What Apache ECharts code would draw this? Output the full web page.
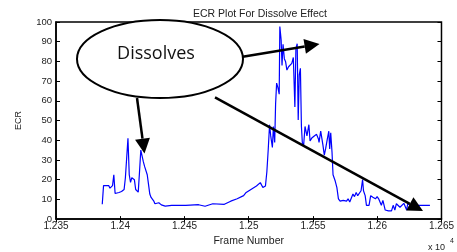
<!DOCTYPE html>
<html>
<head>
<meta charset="utf-8">
<script src="https://cdn.jsdelivr.net/npm/echarts@6/dist/echarts.min.js"></script>
<style>
  html, body { margin: 0; padding: 0; background: #fff; }
  #chart { width: 457px; height: 252px; }
</style>
</head>
<body>
<div id="chart"></div>
<script>
// frame numbers and ECR values
var frames = [
  12386, 12387, 12391, 12392, 12394, 12395, 12396, 12399, 12401, 12403,
  12404, 12406, 12407, 12408, 12409, 12411, 12412, 12414, 12415, 12416,
  12418, 12419, 12421, 12422, 12423, 12424, 12426, 12427, 12430, 12432,
  12435, 12440, 12443, 12451, 12461, 12466, 12472, 12481, 12486, 12491,
  12496, 12498, 12502, 12506, 12507, 12509, 12511, 12513,
  12514.1, 12515.2, 12516.2, 12517.1, 12518.4, 12519.2, 12520.2, 12520.9, 12521.7, 12522.7,
  12523.7, 12524.2, 12525.2, 12525.9, 12526.7, 12527.7, 12528.7, 12529.7, 12531, 12532.2,
  12533.5, 12534.7, 12535.9, 12536.7, 12537.7, 12538.5, 12539.3, 12540.2, 12541, 12541.7,
  12542.7, 12543.8, 12545.3, 12546.8, 12547.7, 12549.3, 12551, 12552.8, 12554.3, 12554.7,
  12556, 12556.8, 12557.8, 12558.8, 12559.8, 12561.1, 12562.3, 12563, 12563.8, 12564.8,
  12565.6, 12567.3, 12568.6, 12569.8, 12571.1, 12573.5, 12576.1, 12577.3, 12578.6, 12581.1,
  12582.3, 12583.6, 12584.8, 12586.1, 12587.4, 12588.6, 12589.3, 12590.6, 12591.6, 12593.6,
  12594.9, 12596.6, 12598.6, 12599.9, 12601.1, 12603.2, 12604.4, 12606.2, 12608.7, 12611.1,
  12612.4, 12613.7, 12614.9, 12617.7, 12620.7, 12622.9, 12623.7, 12625, 12626.2, 12627.5,
  12628.7, 12629.9, 12641
];
var ecr = [
  7.5, 17, 17, 15.7, 17, 22.5, 13, 13.5, 14, 15,
  21, 41, 22.5, 18.6, 21, 20, 15, 13.7, 24, 35,
  29, 26.6, 22.5, 17.6, 12.7, 11, 9.3, 7.8, 8.3, 7.2,
  6.6, 7, 7, 7, 7.3, 6.5, 7.8, 7.5, 9.1, 10.3,
  11.9, 13.5, 15.2, 16.8, 17.6, 18.5, 16, 16.8,
  24, 35.7, 47.9, 42.2, 36.4, 47, 38.9, 58.5, 69, 66.7,
  63.4, 97.7, 91, 78, 88.7, 81.4, 79.8, 75.6, 77.3, 77,
  79, 82, 56.9, 86.3, 89, 50.3, 73.2, 76.5, 47, 38.9,
  37.3, 47, 42.2, 47.9, 39.7, 41.3, 42.2, 43, 40.5, 38.9,
  44.6, 43.8, 37.3, 32.4, 35.6, 40.5, 44.6, 35.6, 43.8, 34,
  22.5, 19.3, 16, 10.3, 9.1, 9.5, 9.1, 10.3, 8.7, 12.7,
  11.4, 13.5, 11.9, 12.7, 14.4, 20.1, 14.4, 11.9, 7, 7,
  11.9, 11.1, 10.3, 11.4, 10.3, 7, 9.5, 4.6, 4.2, 4.2,
  7, 4.6, 7.8, 6, 8, 4.6, 7.8, 8.7, 7, 9.1,
  9.1, 7, 7
];

var points = frames.map(function (f, i) { return [f, ecr[i]]; });

// annotation arrows (shaft + filled head), pixel positions
function arrow(x1, y1, x2, y2) {
    var dx = x2 - x1, dy = y2 - y1;
    var len = Math.sqrt(dx * dx + dy * dy);
    var ux = dx / len, uy = dy / len;
    var hl = 15, hw = 7.5;
    var bx = x2 - ux * hl, by = y2 - uy * hl;
    return [
        { type: 'line', shape: { x1: x1, y1: y1, x2: bx, y2: by },
          style: { stroke: '#000', lineWidth: 2.5 }, z: 100 },
        { type: 'polygon', shape: { points: [[x2, y2], [bx - uy * hw, by + ux * hw], [bx + uy * hw, by - ux * hw]] },
          style: { fill: '#000' }, z: 100 }
    ];
}

var myChart = echarts.init(document.getElementById('chart'));
var labelFont = { color: '#222', fontSize: 9.5, fontFamily: 'Liberation Sans' };

var option = {
    animation: false,
    backgroundColor: '#fff',
    title: {
        text: 'ECR Plot For Dissolve Effect',
        left: 255, top: 4, textAlign: 'center',
        textStyle: { fontSize: 10.5, fontWeight: 'normal', color: '#222', fontFamily: 'Liberation Sans' }
    },
    grid: { left: 56, top: 22, right: 2, bottom: 26, show: true, borderColor: '#000', borderWidth: 1.5 },
    xAxis: [{
        type: 'value', min: 12350, max: 12650, interval: 50,
        name: 'Frame Number', nameLocation: 'middle', nameGap: 11,
        nameTextStyle: { fontSize: 10.5, color: '#222', fontFamily: 'Liberation Sans' },
        axisLine: { lineStyle: { color: '#000', width: 1.5 } },
        axisTick: { inside: true, length: 3, lineStyle: { color: '#000' } },
        axisLabel: { margin: 2, fontSize: 10, color: '#222', fontFamily: 'Liberation Sans',
            formatter: function (v) { return String(parseFloat((v / 10000).toFixed(4))); } },
        splitLine: { show: false }
    }, {
        type: 'value', position: 'top', min: 12350, max: 12650, interval: 50,
        axisLine: { show: false },
        axisTick: { inside: true, length: 3, lineStyle: { color: '#000' } },
        axisLabel: { show: false },
        splitLine: { show: false }
    }],
    yAxis: [{
        type: 'value', min: 0, max: 100, interval: 10,
        name: 'ECR', nameLocation: 'middle', nameGap: 33, nameRotate: 90,
        nameTextStyle: { fontSize: 9, color: '#222', fontFamily: 'Liberation Sans' },
        axisLine: { show: true, lineStyle: { color: '#000', width: 1.5 } },
        axisTick: { show: true, inside: true, length: 4, lineStyle: { color: '#000' } },
        axisLabel: Object.assign({ margin: 4 }, labelFont),
        splitLine: { show: false }
    }, {
        type: 'value', position: 'right', min: 0, max: 100, interval: 10,
        axisLine: { show: false },
        axisTick: { show: true, inside: true, length: 4, lineStyle: { color: '#000' } },
        axisLabel: { show: false },
        splitLine: { show: false }
    }],
    series: [{
        type: 'line',
        data: points,
        showSymbol: false,
        lineStyle: { color: '#0000ff', width: 1.2 },
        z: 3
    }],
    graphic: [
        { type: 'ellipse', shape: { cx: 160, cy: 59, rx: 83, ry: 39 },
          style: { fill: '#fff', stroke: '#000', lineWidth: 2 }, z: 100 },
        { type: 'text', x: 156, y: 45, z: 101,
          style: { text: 'Dissolves', fill: '#111', font: '18px "Open Sans"', textAlign: 'center' } },
        { type: 'text', x: 428, y: 243, z: 101,
          style: { text: 'x 10', fill: '#222', font: '9px "Liberation Sans"' } },
        { type: 'text', x: 450, y: 238, z: 101,
          style: { text: '4', fill: '#222', font: '7px "Liberation Sans"' } }
    ].concat(arrow(137, 98, 144.5, 153.5))
     .concat(arrow(242.7, 56.7, 319.5, 44))
     .concat(arrow(215, 97.3, 423, 211))
};
myChart.setOption(option);
</script>
</body>
</html>
